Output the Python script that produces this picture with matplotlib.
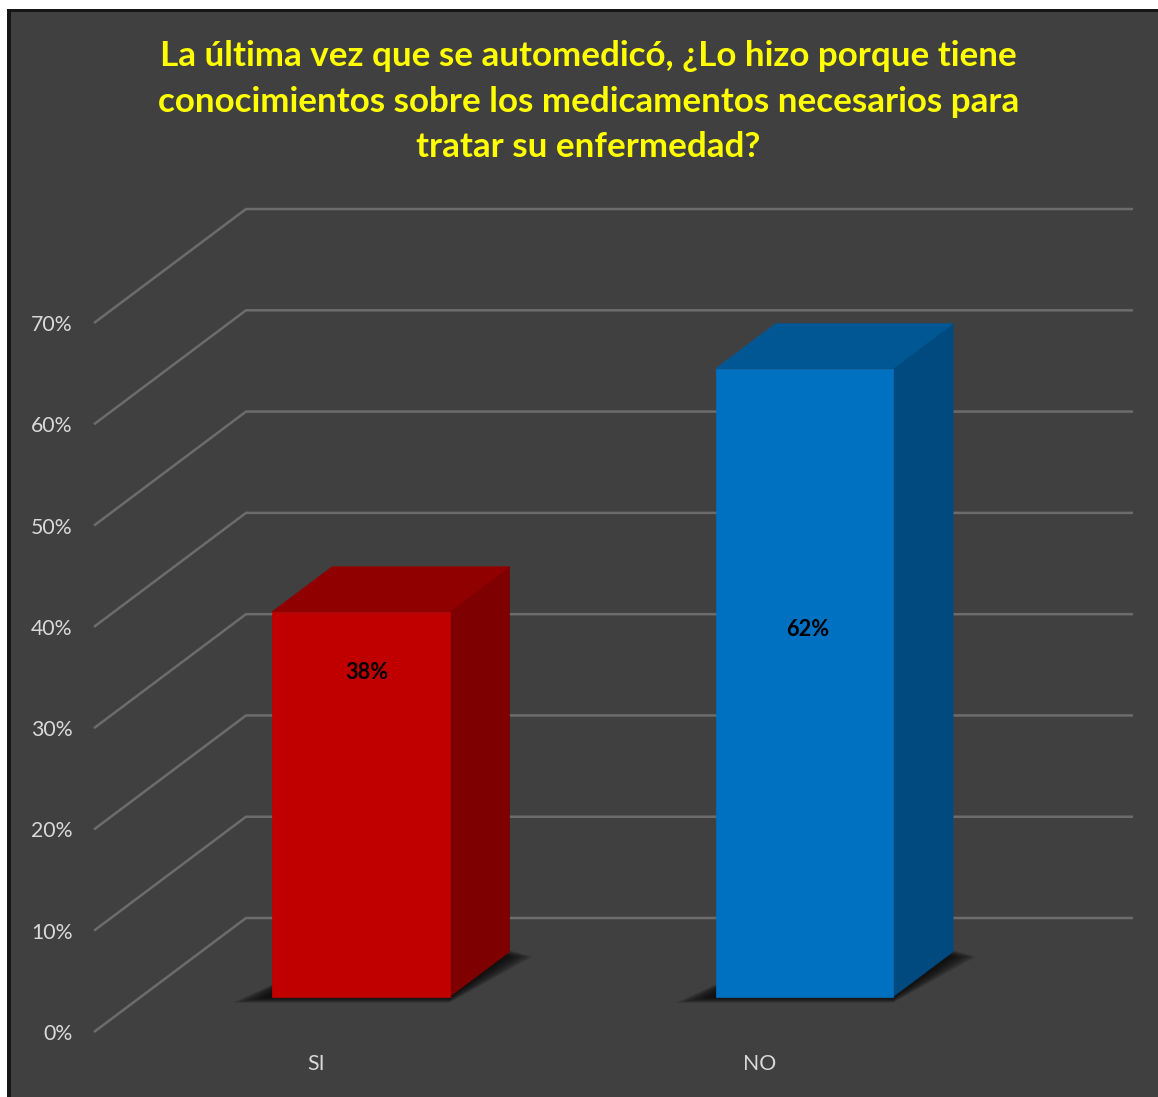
import matplotlib
matplotlib.use("Agg")
import matplotlib.pyplot as plt
from matplotlib.patches import Polygon, Rectangle

W, H = 1158, 1097

categories = ["SI", "NO"]
values = [38, 62]
grid_values = [0, 10, 20, 30, 40, 50, 60, 70]
front_colors = ["#C00000", "#0070C0"]
top_colors = ["#900000", "#005794"]
side_colors = ["#7F0000", "#004A80"]
title = ("La última vez que se automedicó, ¿Lo hizo porque tiene\n"
         "conocimientos sobre los medicamentos necesarios para\n"
         "tratar su enfermedad?")

BG = "#404040"
GRID = "#6C6C6C"
TICK = "#D9D9D9"

# depth of the 3D floor, in data units (x categories, y percent)
DX = 152 / 443.5
DY = 114 / 10.13
BAR_WIDTH = 0.4
BAR_SHIFT = -0.0045
BAR_D0 = 0.31
BAR_D1 = 0.705
# height of the value label as a share of the bar
LABEL_FRAC = [0.843, 0.585]
LABEL_SHIFT = [0.014, 0.008]


def project(x, v, d=0.0):
    return x + d * DX, v + d * DY


def draw_grid(ax):
    for v in grid_values:
        pts = [project(0, v, 0), project(0, v, 1), project(2, v, 1)]
        ax.plot(*zip(*pts), color=GRID, lw=1.8, clip_on=False, zorder=1,
                solid_joinstyle="miter", solid_capstyle="butt")


def draw_shadow(ax, x0, x1):
    # soft floor shadow, tapering to the left and to the back right
    for i in range(20):
        grow = i / 19
        left = x0 - 0.09 * grow
        right = x1 + 0.05 * grow
        low = -0.6 * grow
        pts = [project(left, low, BAR_D0), project(x1, low, BAR_D0),
               project(right, low, BAR_D1 + 0.01), project(x0, low, BAR_D1 + 0.01)]
        ax.add_patch(Polygon(pts, closed=True, facecolor="#0A0A0A", edgecolor="none",
                             alpha=0.085, clip_on=False, zorder=2))


def draw_bar(ax, center, value, front, top, side):
    x0 = center - BAR_WIDTH / 2
    x1 = center + BAR_WIDTH / 2
    draw_shadow(ax, x0, x1)
    faces = [
        ([project(x1, 0, BAR_D0), project(x1, 0, BAR_D1),
          project(x1, value, BAR_D1), project(x1, value, BAR_D0)], side),
        ([project(x0, value, BAR_D0), project(x1, value, BAR_D0),
          project(x1, value, BAR_D1), project(x0, value, BAR_D1)], top),
        ([project(x0, 0, BAR_D0), project(x1, 0, BAR_D0),
          project(x1, value, BAR_D0), project(x0, value, BAR_D0)], front),
    ]
    for pts, color in faces:
        ax.add_patch(Polygon(pts, closed=True, facecolor=color, edgecolor=color,
                             lw=0.5, clip_on=False, zorder=3))


fig = plt.figure(figsize=(W / 100, H / 100), dpi=100, facecolor="white")
plt.rcParams["font.family"] = ["Lato", "DejaVu Sans"]

# dark panel with its black outline, running off the right and bottom edges
fig.patches.append(Rectangle((7 / W, 0), 1, 1 - 9 / H, transform=fig.transFigure,
                             facecolor="#161616", edgecolor="none", figure=fig, zorder=-2))
fig.patches.append(Rectangle((11 / W, 0), 1, 1 - 12 / H, transform=fig.transFigure,
                             facecolor=BG, edgecolor="none", figure=fig, zorder=-1))

ax = fig.add_axes([94 / W, 1 - 1032 / H, (981 - 94) / W, (1032 - 323) / H])
ax.patch.set_visible(False)
ax.set_xlim(0, 2)
ax.set_ylim(0, 70)
for spine in ax.spines.values():
    spine.set_visible(False)

ax.set_yticks(grid_values)
ax.set_yticklabels([f"{v}%" for v in grid_values])
ax.set_xticks([0.5, 1.5])
ax.set_xticklabels(categories)
ax.tick_params(axis="y", length=0, pad=15.5, labelsize=15.3, labelcolor=TICK)
ax.tick_params(axis="x", length=0, pad=16, labelsize=15.3, labelcolor=TICK)

draw_grid(ax)

for i, value in enumerate(values):
    center = i + 0.5 + BAR_SHIFT
    draw_bar(ax, center, value, front_colors[i], top_colors[i], side_colors[i])
    lx, ly = project(center + LABEL_SHIFT[i], value * LABEL_FRAC[i], BAR_D0)
    ax.text(lx, ly, f"{value}%", ha="center", va="center", color="black",
            fontsize=15.6, fontweight="bold", zorder=4, clip_on=False)

fig.text(588.5 / W, 1 - 101.5 / H, title, ha="center", va="center", color="#FFFF00",
         fontsize=25.2, fontweight="bold", linespacing=1.51)

fig.savefig("out.png", dpi=100, facecolor="white")
